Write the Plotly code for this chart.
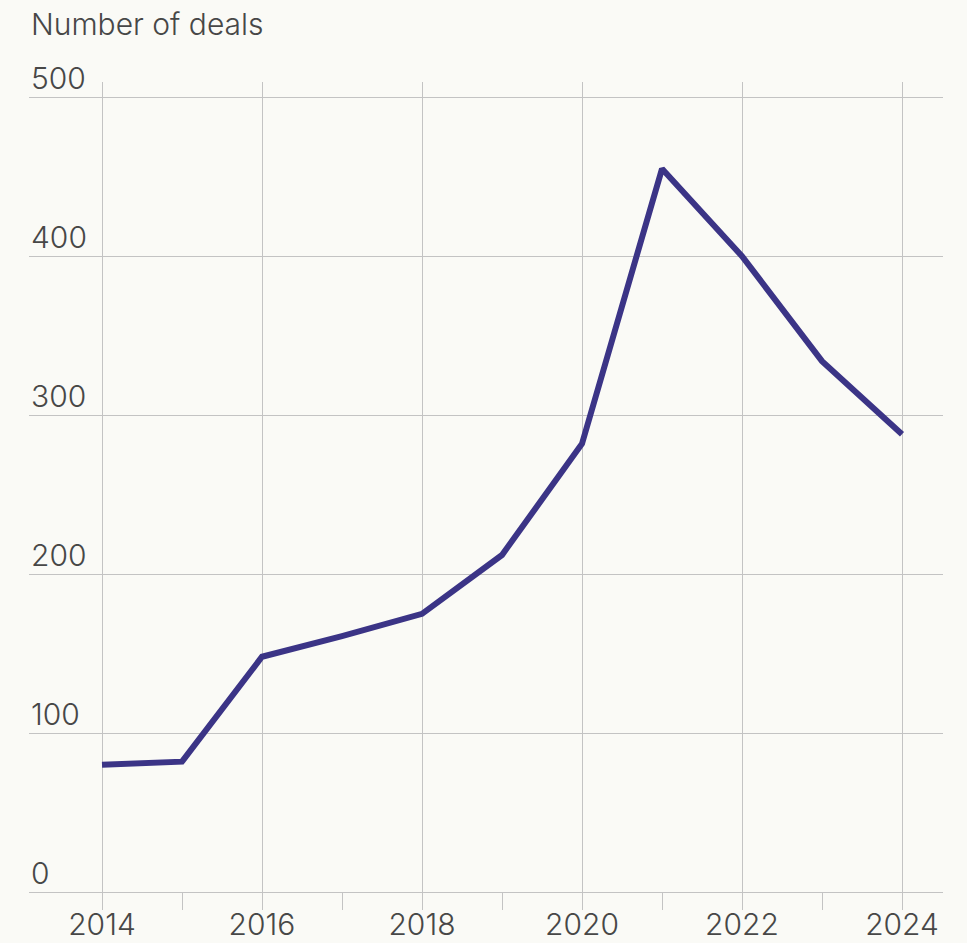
import plotly.graph_objects as go

# Annual deal counts
years = [2014, 2015, 2016, 2017, 2018, 2019, 2020, 2021, 2022, 2023, 2024]
deals = [80, 82, 148, 161, 175, 212, 282, 455, 400, 334, 288]

y_ticks = [0, 100, 200, 300, 400, 500]
y_title = "Number of deals"

BG = "#fafaf6"
GRID = "#c3c3c3"
TEXT = "#474747"
LINE = "#3b3486"
FONT = "Inter"
WEIGHT = 300

fig = go.Figure()
fig.add_trace(go.Scatter(
    x=years, y=deals, mode="lines",
    line=dict(color=LINE, width=6),
    hoverinfo="x+y", showlegend=False,
))

# y tick labels sit above their gridlines, flush left
for v in y_ticks:
    fig.add_annotation(
        x=0, xref="paper", y=v, yref="y",
        text=str(v), showarrow=False,
        xanchor="left", yanchor="middle", yshift=19,
        font=dict(family=FONT, size=30, color=TEXT, weight=WEIGHT),
    )

fig.add_annotation(
    x=0, xref="paper", y=1.072, yref="paper",
    text=y_title, showarrow=False,
    xanchor="left", yanchor="middle",
    font=dict(family=FONT, size=30, color=TEXT, weight=WEIGHT),
)

fig.update_layout(
    width=967, height=943,
    margin=dict(l=29, r=24, t=82, b=51),
    paper_bgcolor=BG, plot_bgcolor=BG,
    font=dict(family=FONT, size=30, color=TEXT, weight=WEIGHT),
    xaxis=dict(
        range=[2013.0875, 2024.5125],
        tickmode="linear", tick0=2014, dtick=2,
        showgrid=True, gridcolor=GRID, gridwidth=1,
        ticks="outside", ticklen=17, tickcolor=GRID, tickwidth=1,
        ticklabelstandoff=-11,
        minor=dict(dtick=1, tick0=2014, ticks="outside", ticklen=17,
                   tickcolor=GRID, tickwidth=1, showgrid=False),
        showline=True, linecolor=GRID, linewidth=1,
        zeroline=False, automargin=False,
        tickfont=dict(family=FONT, size=30, color=TEXT, weight=WEIGHT),
        fixedrange=True,
    ),
    yaxis=dict(
        range=[0, 509.6],
        tickmode="array", tickvals=y_ticks,
        showticklabels=False,
        showgrid=True, gridcolor=GRID, gridwidth=1,
        zeroline=False, showline=False, ticks="",
        automargin=False, fixedrange=True,
    ),
)

fig.write_html("out.html")
